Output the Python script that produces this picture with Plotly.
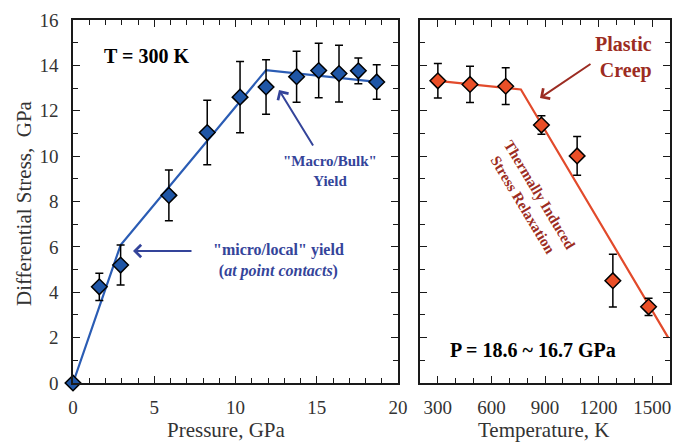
import plotly.graph_objects as go

# ---------------- data ----------------
# Left panel: T = 300 K, stress vs pressure
pressure = [0, 1.62, 2.93, 5.9, 8.26, 10.28, 11.88, 13.76, 15.12, 16.37, 17.56, 18.69]
stress_p = [0, 4.24, 5.2, 8.27, 11.04, 12.6, 13.05, 13.5, 13.77, 13.64, 13.76, 13.27]
err_p = [0, 0.6, 0.88, 1.12, 1.42, 1.57, 1.2, 1.12, 1.2, 1.25, 0.57, 0.76]
fit_p_x = [0, 2.93, 11.88, 18.69]
fit_p_y = [0, 6.08, 13.79, 13.27]

# Right panel: P = 18.6 ~ 16.7 GPa, stress vs temperature
temperature = [300, 480, 680, 880, 1080, 1280, 1480]
stress_t = [13.32, 13.16, 13.08, 11.37, 10.01, 4.51, 3.36]
err_t = [0.76, 0.8, 0.81, 0.41, 0.85, 1.16, 0.38]
fit_t_x = [300, 765, 1590]
fit_t_y = [13.32, 12.94, 2.0]

x1_ticks = [0, 5, 10, 15, 20]
x2_ticks = [300, 600, 900, 1200, 1500]
y_ticks = [0, 2, 4, 6, 8, 10, 12, 14, 16]

# ---------------- style ----------------
W, H = 675, 444
FONT = "Liberation Serif, Times New Roman, DejaVu Serif, serif"
BLUE = "#1f56a6"
BLUE_LINE = "#2a5cb4"
BLUE_TXT = "#34449a"
RED = "#ea4f27"
RED_LINE = "#e24a2b"
RED_TXT = "#9c2c22"
AX = "#1a1a1a"


def px(x):
    return x / W


def py(y):
    return 1 - y / H


fig = go.Figure()

fig.add_trace(go.Scatter(x=fit_p_x, y=fit_p_y, mode="lines",
                         line=dict(color=BLUE_LINE, width=2.2),
                         xaxis="x", yaxis="y", hoverinfo="skip"))
fig.add_trace(go.Scatter(x=pressure, y=stress_p, mode="markers",
                         marker=dict(symbol="diamond", size=12, color=BLUE,
                                     line=dict(color="black", width=1.5)),
                         error_y=dict(type="data", array=err_p, color="black",
                                      thickness=1.5, width=4),
                         cliponaxis=False, xaxis="x", yaxis="y"))

fig.add_trace(go.Scatter(x=fit_t_x, y=fit_t_y, mode="lines",
                         line=dict(color=RED_LINE, width=2.2),
                         xaxis="x2", yaxis="y2", hoverinfo="skip"))
fig.add_trace(go.Scatter(x=temperature, y=stress_t, mode="markers",
                         marker=dict(symbol="diamond", size=12, color=RED,
                                     line=dict(color="black", width=1.5)),
                         error_y=dict(type="data", array=err_t, color="black",
                                      thickness=1.5, width=4),
                         cliponaxis=False, xaxis="x2", yaxis="y2"))

common = dict(showline=True, linecolor=AX, linewidth=1.6, mirror="allticks",
              ticks="inside", ticklen=7, tickwidth=1.4, tickcolor=AX,
              showgrid=False, zeroline=False, automargin=False,
              tickfont=dict(family=FONT, size=19, color="#333"))

ydom = [61 / H, 424 / H]

fig.update_layout(
    template="none",
    width=W, height=H, autosize=False,
    margin=dict(l=0, r=0, t=0, b=0, pad=0),
    paper_bgcolor="white", plot_bgcolor="white",
    showlegend=False,
    font=dict(family=FONT),
    xaxis=dict(domain=[73 / W, 398 / W], range=[0, 20], tickvals=x1_ticks,
               minor=dict(dtick=1, ticks="inside", ticklen=5, tickcolor=AX, tickwidth=1.2),
               ticklabelstandoff=6, **common),
    yaxis=dict(domain=ydom, range=[0, 16], tickvals=y_ticks,
               minor=dict(dtick=1, ticks="inside", ticklen=5, tickcolor=AX, tickwidth=1.2),
               ticklabelstandoff=9, **common),
    xaxis2=dict(domain=[420 / W, 670 / W], range=[200, 1600], tickvals=x2_ticks,
                minor=dict(dtick=100, tick0=200, ticks="inside", ticklen=5, tickcolor=AX, tickwidth=1.2),
                ticklabelstandoff=6, anchor="y2", **common),
    yaxis2=dict(domain=ydom, range=[0, 16], tickvals=y_ticks, showticklabels=False,
                minor=dict(dtick=1, ticks="inside", ticklen=5, tickcolor=AX, tickwidth=1.2),
                anchor="x2", **common),
)

ann = []


def label(text, x, y, size, color, **kw):
    d = dict(text=text, x=px(x), y=py(y), xref="paper", yref="paper",
             xanchor="center", yanchor="middle", showarrow=False,
             font=dict(family=FONT, size=size, color=color))
    d.update(kw)
    ann.append(d)


def arrow(x, y, ax, ay, color):
    ann.append(dict(text="", x=px(x), y=py(y), xref="paper", yref="paper",
                    showarrow=True, ax=ax, ay=ay, arrowhead=4, arrowsize=1.2,
                    arrowwidth=2, arrowcolor=color, standoff=0))


# axis titles
label("Pressure, GPa", 226, 430, 21, "#333")
label("Temperature, K", 543, 430, 21, "#333")
label("Differential Stress,&nbsp; GPa", 24, 203, 21, "#333", textangle=-90)

# panel labels
label("<b>T = 300 K</b>", 146, 56, 20, "black")
label("<b>P = 18.6 ~ 16.7 GPa</b>", 533, 350, 20, "black")

# left annotations
label('<b>"Macro/Bulk"<br>Yield</b>', 330, 171, 15, BLUE_TXT)
label('<b>"micro/local" yield<br>(<i>at point contacts</i>)</b>', 278, 260, 16, BLUE_TXT)
arrow(279, 90, 35, 57, BLUE_TXT)
arrow(133, 251, 60, 0, BLUE_TXT)

# right annotations
label("<b>Plastic<br>Creep</b>", 654, 57, 20, RED_TXT, xanchor="right", align="right")
arrow(540, 98, 52, -35, RED_TXT)
label("<b>Thermally Induced<br>Stress Relaxation</b>", 531, 200, 15, RED_TXT, textangle=59)

fig.update_layout(annotations=ann)

fig.write_html("out.html")
